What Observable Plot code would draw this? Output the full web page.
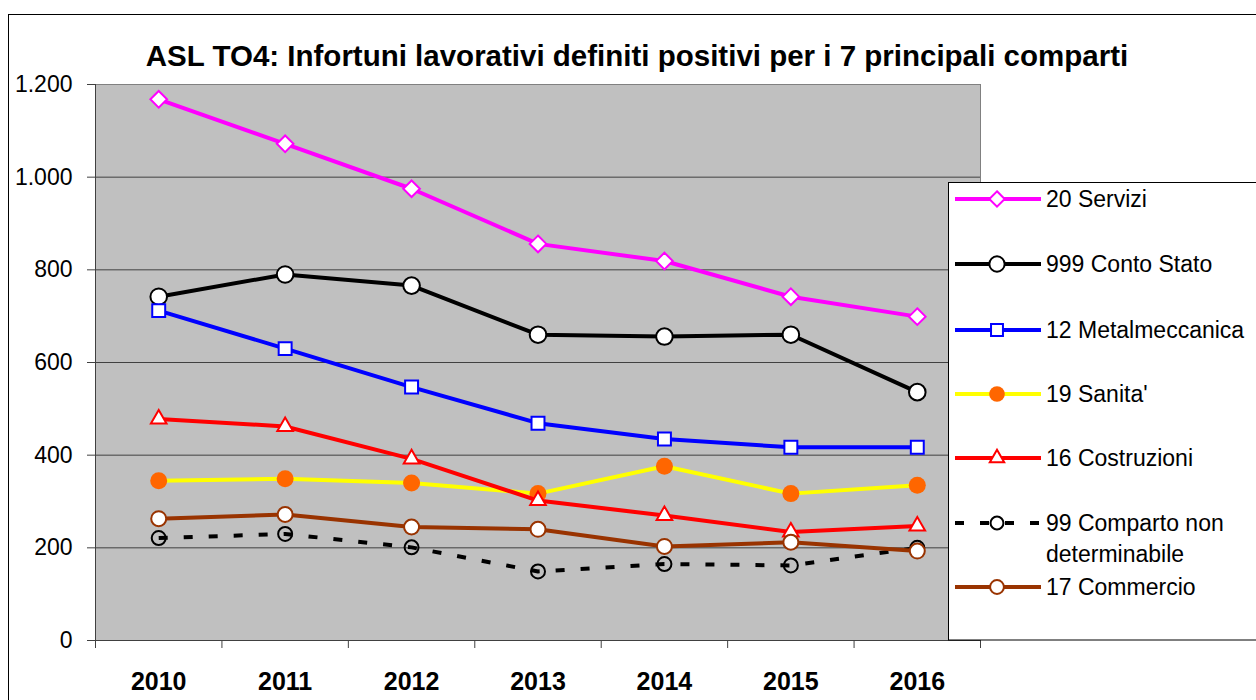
<!DOCTYPE html>
<html><head><meta charset="utf-8">
<script src="https://cdn.jsdelivr.net/npm/d3@7"></script>
<script src="https://cdn.jsdelivr.net/npm/@observablehq/plot@0.6"></script>
<style>body{margin:0;background:#fff;} svg{display:block}</style>
</head><body><div id="chart"></div>
<script>
// ---- data ----
const years = [2010, 2011, 2012, 2013, 2014, 2015, 2016];
const seriesNames = ["20 Servizi", "999 Conto Stato", "12 Metalmeccanica", "19 Sanita'", "16 Costruzioni", "99 Comparto non determinabile", "17 Commercio"];
const servizi        = [1168, 1072, 975, 856, 819, 742, 699];
const contoStato     = [742, 790, 766, 660, 656, 660, 536];
const metalmeccanica = [712, 630, 547, 469, 435, 417, 417];
const sanita         = [345, 349, 340, 317, 376, 317, 335];
const costruzioni    = [478, 462, 392, 302, 270, 234, 247];
const compartoNonDet = [221, 230, 201, 149, 165, 162, 200];
const commercio      = [263, 272, 245, 240, 203, 212, 193];
const yTicks = [0, 200, 400, 600, 800, 1000, 1200];
const title = "ASL TO4: Infortuni lavorativi definiti positivi per i 7 principali comparti";

const seriesValues = [servizi, contoStato, metalmeccanica, sanita, costruzioni, compartoNonDet, commercio];
const rows = [];
seriesNames.forEach((s, i) => years.forEach((y, j) => rows.push({series: s, year: y, value: seriesValues[i][j]})));

// ---- styles ----
const styles = [
  {stroke: "#ff00ff", symbol: "diamond2", r: 7.5, fill: "white", mstroke: "#ff00ff"},
  {stroke: "#000000", symbol: "circle", r: 8.3, fill: "white", mstroke: "#000000"},
  {stroke: "#0000ff", symbol: "square", r: 7.3, fill: "white", mstroke: "#0000ff"},
  {stroke: "#ffff00", symbol: "circle", r: 8.5, fill: "#ff6600", mstroke: "none"},
  {stroke: "#ff0000", symbol: "triangle", r: 5.8, fill: "white", mstroke: "#ff0000"},
  {stroke: "#000000", dash: "9,16", symbol: "circle", r: 7, fill: "none", mstroke: "#000000"},
  {stroke: "#993300", symbol: "circle", r: 7.5, fill: "white", mstroke: "#993300"}
];
const fontFamily = "'Liberation Sans', Arial, sans-serif";
const fmt = d => d3.format(",")(d).replace(/,/g, ".");
const boundaries = years.map(y => y - 0.5).concat([years[years.length - 1] + 0.5]);

const seriesMarks = [];
seriesNames.forEach((s, i) => {
  const st = styles[i];
  const data = rows.filter(d => d.series === s);
  seriesMarks.push(Plot.line(data, {x: "year", y: "value", stroke: st.stroke, strokeWidth: 4,
    strokeDasharray: st.dash, strokeLinecap: st.dash ? "butt" : "round", strokeLinejoin: "round"}));
  seriesMarks.push(Plot.dot(data, {x: "year", y: "value", symbol: st.symbol, r: st.r,
    fill: st.fill, stroke: st.mstroke, strokeWidth: 2}));
});

const chart = Plot.plot({
  width: 1256, height: 700,
  marginLeft: 95, marginRight: 276, marginTop: 84, marginBottom: 60,
  style: {fontFamily, background: "white", color: "#000", overflow: "visible"},
  x: {type: "linear", domain: [boundaries[0], boundaries[boundaries.length - 1]]},
  y: {domain: [yTicks[0], yTicks[yTicks.length - 1]]},
  marks: [
    Plot.frame({fill: "#c0c0c0", stroke: "#808080"}),
    Plot.gridY({ticks: yTicks.slice(1, -1), stroke: "#404040", strokeOpacity: 1}),
    Plot.ruleX([boundaries[0]], {stroke: "#404040"}),
    Plot.ruleY([yTicks[0]], {stroke: "#404040"}),
    Plot.axisY({ticks: yTicks, tickSize: 8, tickPadding: 15, tickFormat: fmt, fontSize: 23, label: null, stroke: "#404040"}),
    Plot.axisX({ticks: boundaries, tickSize: 8, tickFormat: () => "", label: null, stroke: "#404040"}),
    Plot.axisX({ticks: years, tickSize: 0, tickPadding: 32, tickFormat: d => String(d), fontSize: 25, fontWeight: "bold", label: null}),
    ...seriesMarks
  ]
});
document.getElementById("chart").appendChild(chart);

// ---- decorations: outer border, title, legend ----
const svg = d3.select(chart);
svg.append("rect").attr("x", 8.5).attr("y", 14.5).attr("width", 1400).attr("height", 900)
  .attr("fill", "none").attr("stroke", "#000");
svg.append("text").attr("x", 637).attr("y", 66).attr("text-anchor", "middle")
  .attr("font-family", fontFamily).attr("font-weight", "bold").attr("font-size", 29.5)
  .attr("fill", "#000").text(title);

const lg = svg.append("g");
lg.append("rect").attr("x", 948.5).attr("y", 182.5).attr("width", 400).attr("height", 457.5)
  .attr("fill", "white").attr("stroke", "#000");
const symMap = {diamond2: d3.symbolDiamond2, circle: d3.symbolCircle, square: d3.symbolSquare, triangle: d3.symbolTriangle};
const rowY = [199, 264, 330, 394, 458, 523, 587];
seriesNames.forEach((s, i) => {
  const st = styles[i];
  const y = rowY[i];
  lg.append("line").attr("x1", 955).attr("x2", 1041).attr("y1", y).attr("y2", y)
    .attr("stroke", st.stroke).attr("stroke-width", 4).attr("stroke-dasharray", st.dash || null);
  lg.append("path").attr("transform", `translate(997,${y})`)
    .attr("d", d3.symbol(symMap[st.symbol], st.r * st.r * Math.PI * 0.85)())
    .attr("fill", st.fill === "none" ? "white" : st.fill).attr("stroke", st.mstroke).attr("stroke-width", 2);
  const t = lg.append("text").attr("x", 1046).attr("y", y + 8).attr("font-family", fontFamily)
    .attr("text-anchor", "start").attr("font-size", 23).attr("fill", "#000");
  if (s === "99 Comparto non determinabile") {
    t.append("tspan").attr("x", 1046).text("99 Comparto non");
    t.append("tspan").attr("x", 1046).attr("dy", 31).text("determinabile");
  } else t.text(s);
});
</script>
</body></html>
